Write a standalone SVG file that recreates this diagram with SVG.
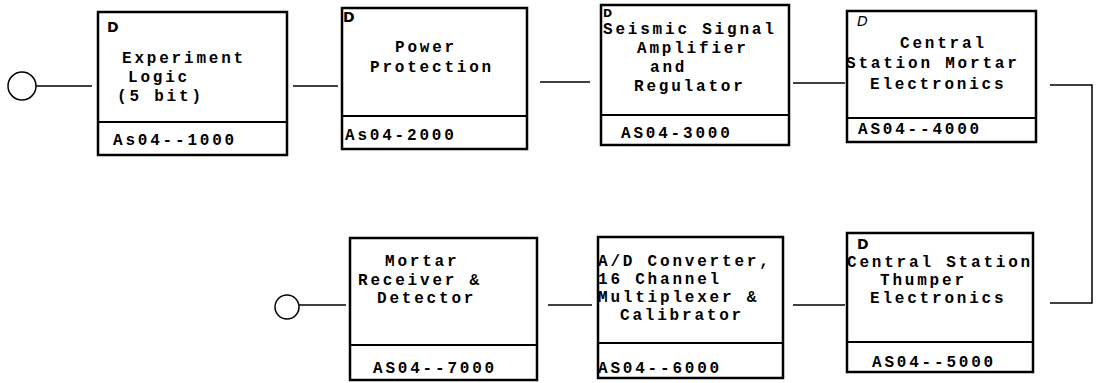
<svg xmlns="http://www.w3.org/2000/svg" width="1100" height="383" viewBox="0 0 1100 383">
<style>
.box{fill:#fff;stroke:#000;stroke-width:2.5}
.div{stroke:#000;stroke-width:2}
.t{font-family:"Liberation Mono",monospace;font-weight:bold;font-size:16px;letter-spacing:2.8px;fill:#000}
.d{font-family:"DejaVu Sans",sans-serif;font-weight:bold;font-size:14px;fill:#000}
.c{fill:none;stroke:#000;stroke-width:1.5}
</style>
<rect width="1100" height="383" fill="#fff"/>
<g id="connectors">
<circle class="c" cx="22" cy="86" r="14"/>
<line class="c" x1="36" y1="86" x2="92" y2="86"/>
<line class="c" x1="293" y1="86" x2="338" y2="86"/>
<line class="c" x1="540" y1="82" x2="590" y2="82"/>
<line class="c" x1="793" y1="83" x2="845" y2="83"/>
<polyline class="c" points="1050,85 1092,85 1092,303 1050,303"/>
<line class="c" x1="793" y1="305" x2="845" y2="305"/>
<line class="c" x1="548" y1="305" x2="592" y2="305"/>
<circle class="c" cx="287" cy="307" r="12"/>
<line class="c" x1="299" y1="305" x2="346" y2="305"/>
</g>
<g id="n1">
<rect class="box" x="98" y="12" width="189" height="143"/>
<line class="div" x1="98" y1="122" x2="287" y2="122"/>
<text class="d" x="107" y="32">D</text>
<text class="t" x="122" y="63">Experiment</text>
<text class="t" x="128" y="82">Logic</text>
<text class="t" x="117" y="101">(5 bit)</text>
<text class="t" x="113" y="145">As04--1000</text>
</g>
<g id="n2">
<rect class="box" x="342" y="8" width="185" height="141"/>
<line class="div" x1="342" y1="116" x2="527" y2="116"/>
<text class="d" x="343" y="22">D</text>
<text class="t" x="395" y="52">Power</text>
<text class="t" x="370" y="72">Protection</text>
<text class="t" x="345" y="140">As04-2000</text>
</g>
<g id="n3">
<rect class="box" x="601" y="5" width="188" height="140"/>
<line class="div" x1="601" y1="115" x2="789" y2="115"/>
<text class="d" x="603" y="17" style="font-size:11px">D</text>
<text class="t" x="603" y="34">Seismic Signal</text>
<text class="t" x="637" y="53">Amplifier</text>
<text class="t" x="650" y="72">and</text>
<text class="t" x="634" y="91">Regulator</text>
<text class="t" x="621" y="138">AS04-3000</text>
</g>
<g id="n4">
<rect class="box" x="847" y="11" width="189" height="131"/>
<line class="div" x1="847" y1="118" x2="1036" y2="118"/>
<text class="d" x="857" y="26" style="font-style:italic;font-weight:normal">D</text>
<text class="t" x="900" y="48">Central</text>
<text class="t" x="846" y="68">Station Mortar</text>
<text class="t" x="870" y="89">Electronics</text>
<text class="t" x="858" y="134">AS04--4000</text>
</g>
<g id="n5">
<rect class="box" x="847" y="233" width="186" height="139"/>
<line class="div" x1="847" y1="342" x2="1033" y2="342"/>
<text class="d" x="857" y="249">D</text>
<text class="t" x="847" y="267">Central Station</text>
<text class="t" x="880" y="285">Thumper</text>
<text class="t" x="870" y="303">Electronics</text>
<text class="t" x="872" y="367">AS04--5000</text>
</g>
<g id="n6">
<rect class="box" x="598" y="237" width="185" height="141"/>
<line class="div" x1="598" y1="343" x2="783" y2="343"/>
<text class="t" x="598" y="266">A/D Converter,</text>
<text class="t" x="598" y="284">16 Channel</text>
<text class="t" x="598" y="302">Multiplexer &amp;</text>
<text class="t" x="620" y="320">Calibrator</text>
<text class="t" x="598" y="373">AS04--6000</text>
</g>
<g id="n7">
<rect class="box" x="350" y="238" width="187" height="142"/>
<line class="div" x1="350" y1="345" x2="537" y2="345"/>
<text class="t" x="385" y="266">Mortar</text>
<text class="t" x="358" y="285">Receiver &amp;</text>
<text class="t" x="377" y="303">Detector</text>
<text class="t" x="373" y="373">AS04--7000</text>
</g>
</svg>
